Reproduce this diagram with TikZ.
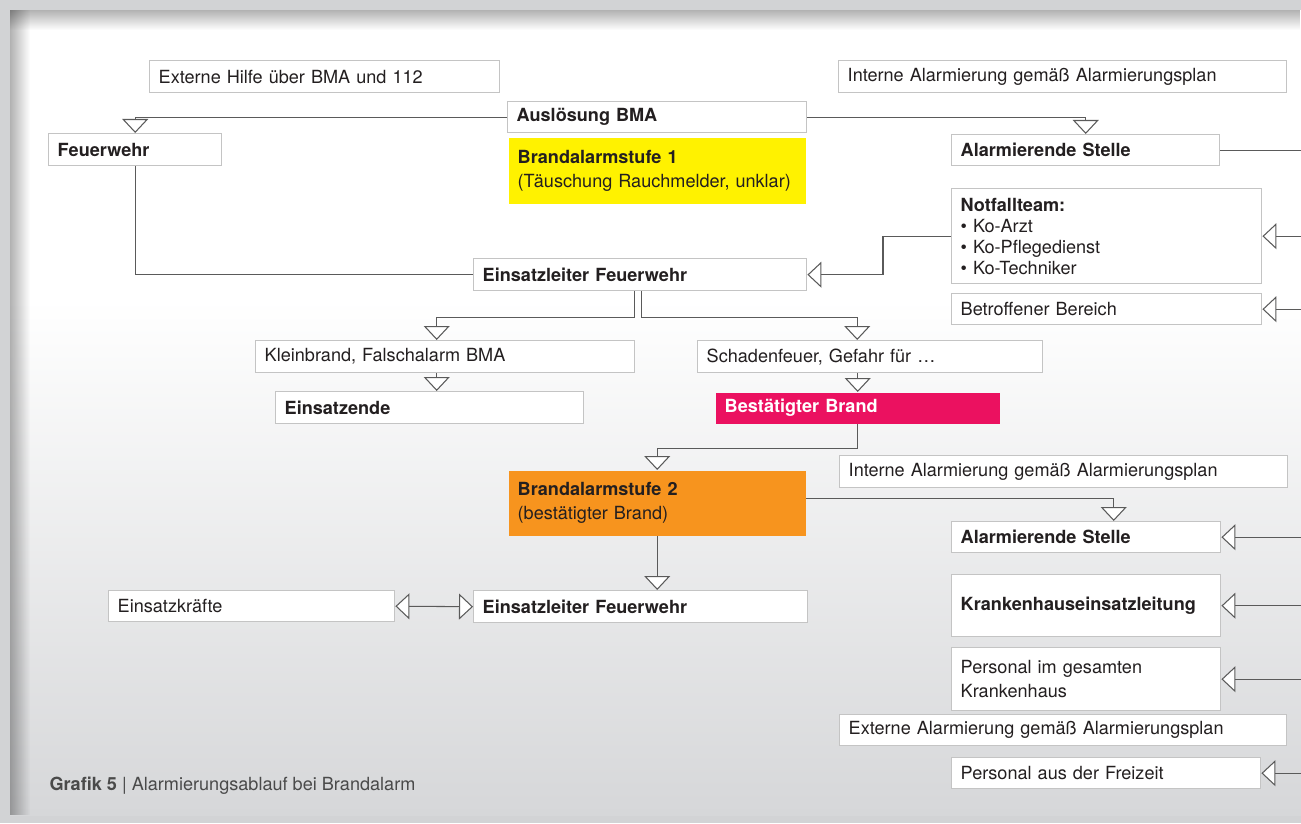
\documentclass[tikz,border=0pt]{standalone}
\usepackage{fontspec}
\setmainfont{TeX Gyre Heros}
\usetikzlibrary{arrows.meta,fadings}

\definecolor{boxgray}{HTML}{C4C4C4}
\definecolor{linegray}{HTML}{5A5A5A}
\definecolor{textdark}{HTML}{231F20}
\definecolor{captiongray}{HTML}{4A4A4A}
\definecolor{stufeyellow}{HTML}{FFF200}
\definecolor{brandred}{HTML}{EB1160}
\definecolor{stufeorange}{HTML}{F7941E}
\definecolor{framegray}{HTML}{D2D3D5}
\definecolor{panelgray}{HTML}{D6D7D9}

\tikzset{
  box/.style={draw=boxgray, line width=0.8pt, fill=white, anchor=north west, align=left,
    inner xsep=0.18cm, inner ysep=0pt, text=textdark},
  filled/.style={box, draw=none, fill=#1},
}

\begin{document}
\begin{tikzpicture}[font=\fontsize{10.3}{13.6}\selectfont, line width=0.6pt,
  >={Triangle[open, fill=white, length=0.28cm, width=0.52cm]}]
\useasboundingbox (0,0) rectangle (26.02,-16.46);

% background
\fill[framegray] (0,0) rectangle (26.02,-16.46);
\fill[white] (0.2,-0.2) rectangle (26.02,-6);
\shade[top color=white, bottom color=panelgray] (0.2,-5.99) rectangle (26.02,-16.3);
\fill[black, opacity=0.3, path fading=south] (0.2,-0.2) rectangle (26.02,-0.6);
\fill[black, opacity=0.3, path fading=east] (0.2,-0.2) rectangle (0.6,-16.3);

% boxes
\node[box, text width=6.64cm, minimum height=0.64cm] (exthilfe) at (2.98,-1.20) {Externe Hilfe über BMA und 112};
\node[box, text width=8.6cm, minimum height=0.64cm] (intern1) at (16.76,-1.20) {Interne Alarmierung gemäß Alarmierungsplan};
\node[box, text width=5.62cm, minimum height=0.62cm] (ausl) at (10.14,-2.02) {\textbf{Auslösung BMA}};
\node[filled=stufeyellow, text width=5.58cm, minimum height=1.32cm] (stufe1) at (10.16,-2.74) {\textbf{Brandalarmstufe 1}\\(Täuschung Rauchmelder, unklar)};
\node[box, text width=3.1cm, minimum height=0.64cm] (feuerwehr) at (0.96,-2.66) {\textbf{Feuerwehr}};
\node[box, text width=5.0cm, minimum height=0.62cm] (stelle1) at (19.02,-2.68) {\textbf{Alarmierende Stelle}};
\node[box, text width=5.84cm, minimum height=1.90cm, font=\fontsize{10.3}{11.9}\selectfont] (notfall) at (19.02,-3.76) {\textbf{Notfallteam:}\\\textbullet~Ko-Arzt\\\textbullet~Ko-Pflegedienst\\\textbullet~Ko-Techniker};
\node[box, text width=5.84cm, minimum height=0.62cm] (bereich) at (19.02,-5.86) {Betroffener Bereich};
\node[box, text width=6.3cm, minimum height=0.64cm] (leiter1) at (9.46,-5.16) {\textbf{Einsatzleiter Feuerwehr}};
\node[box, text width=7.22cm, minimum height=0.64cm] (klein) at (5.10,-6.80) {Kleinbrand, Falschalarm BMA};
\node[box, text width=5.8cm, minimum height=0.64cm] (ende) at (5.50,-7.82) {\textbf{Einsatzende}};
\node[box, text width=6.54cm, minimum height=0.64cm] (schaden) at (13.94,-6.80) {Schadenfeuer, Gefahr für …};
\node[filled=brandred, text=white, text width=5.32cm, minimum height=0.62cm] (brand) at (14.30,-7.84) {\textbf{Bestätigter Brand}};
\node[box, text width=8.6cm, minimum height=0.64cm] (intern2) at (16.78,-9.10) {Interne Alarmierung gemäß Alarmierungsplan};
\node[filled=stufeorange, text width=5.58cm, minimum height=1.30cm] (stufe2) at (10.16,-9.40) {\textbf{Brandalarmstufe 2}\\(bestätigter Brand)};
\node[box, text width=5.02cm, minimum height=0.62cm] (stelle2) at (19.02,-10.42) {\textbf{Alarmierende Stelle}};
\node[box, text width=5.02cm, minimum height=1.24cm] (khel) at (19.02,-11.48) {\textbf{Krankenhauseinsatzleitung}};
\node[box, text width=5.02cm, minimum height=1.26cm] (personal) at (19.02,-12.94) {Personal im gesamten\\Krankenhaus};
\node[box, text width=8.58cm, minimum height=0.62cm] (extern) at (16.78,-14.28) {Externe Alarmierung gemäß Alarmierungsplan};
\node[box, text width=5.82cm, minimum height=0.62cm] (freizeit) at (19.02,-15.14) {Personal aus der Freizeit};
\node[box, text width=5.36cm, minimum height=0.62cm] (kraefte) at (2.16,-11.80) {Einsatzkräfte};
\node[box, text width=6.32cm, minimum height=0.64cm] (leiter2) at (9.46,-11.80) {\textbf{Einsatzleiter Feuerwehr}};

\node[anchor=west, inner sep=0pt, text=captiongray, font=\fontsize{10.3}{12}\selectfont] (caption) at (0.98,-15.72) {\textbf{Grafik 5} | Alarmierungsablauf bei Brandalarm};

% connectors
\coordinate (rand) at (26.02,0);
\draw[->, linegray] (ausl.west) -| (feuerwehr.north);
\draw[->, linegray] (ausl.east) -| (stelle1.north);
\draw[linegray] (stelle1.east) -- (stelle1.east -| rand);
\draw[->, linegray] (notfall.east -| rand) -- (notfall.east);
\draw[->, linegray] (bereich.east -| rand) -- (bereich.east);
\draw[linegray] (feuerwehr.south) |- (leiter1.west);
\draw[->, linegray] (notfall.west) -- ++(-1.36,0) |- (leiter1.east);
\draw[->, linegray] ([xshift=-0.11cm]leiter1.south) -- ++(0,-0.52) -| ([xshift=-0.17cm]klein.north);
\draw[->, linegray] ([xshift=0.03cm]leiter1.south) -- ++(0,-0.52) -| ([xshift=-0.26cm]schaden.north);
\draw[->, linegray] ([xshift=-0.17cm]klein.south) -- ([xshift=-0.17cm]klein.south |- ende.north);
\draw[->, linegray] (brand.north |- schaden.south) -- (brand.north);
\draw[->, linegray] (brand.south) -- ++(0,-0.48) -| (stufe2.north);
\draw[->, linegray] ([yshift=0.09cm]stufe2.east) -| ([xshift=0.55cm]stelle2.north);
\draw[->, linegray] (stufe2.south) -- (stufe2.south |- leiter2.north);
\draw[<->, linegray] (kraefte.east) -- (leiter2.west);
\draw[->, linegray] (stelle2.east -| rand) -- (stelle2.east);
\draw[->, linegray] (khel.east -| rand) -- (khel.east);
\draw[->, linegray] (personal.east -| rand) -- (personal.east);
\draw[->, linegray] (freizeit.east -| rand) -- (freizeit.east);
\end{tikzpicture}
\end{document}
